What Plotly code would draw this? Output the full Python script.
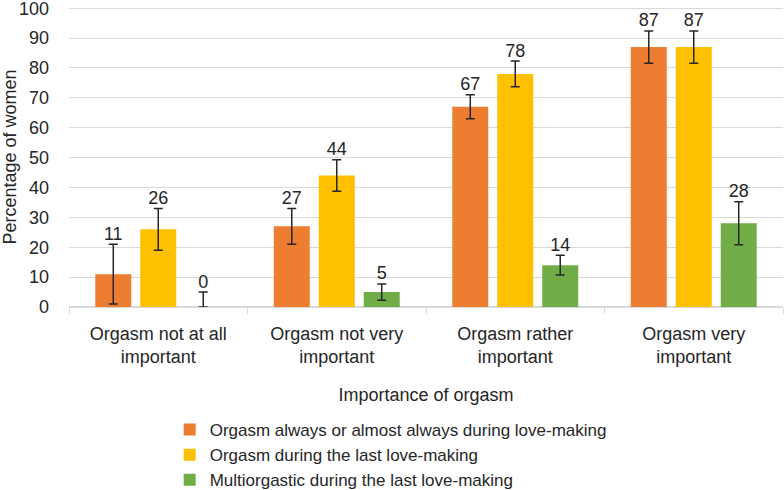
import plotly.graph_objects as go

categories = ["Orgasm not at all<br>important", "Orgasm not very<br>important",
              "Orgasm rather<br>important", "Orgasm very<br>important"]
series_names = ["Orgasm always or almost always during love-making",
                "Orgasm during the last love-making",
                "Multiorgastic during the last love-making"]
always_vals = [11, 27, 67, 87]
last_vals = [26, 44, 78, 87]
multi_vals = [0, 5, 14, 28]
always_err_up = [10, 6, 4, 5.4]
always_err_down = [10, 6, 4, 5.4]
last_err_up = [7, 5.3, 4.3, 5.4]
last_err_down = [7, 5.3, 4.3, 5.4]
multi_err_up = [5, 2.7, 3.3, 7.2]
multi_err_down = [0, 2.7, 3.3, 7.2]
y_ticks = list(range(0, 101, 10))
colors = ["#ED7D31", "#FFC000", "#70AD47"]

values = [always_vals, last_vals, multi_vals]
errs_up = [always_err_up, last_err_up, multi_err_up]
errs_down = [always_err_down, last_err_down, multi_err_down]

FONT = "Liberation Sans, Arial, sans-serif"
fig = go.Figure()
for i in range(3):
    fig.add_trace(go.Bar(
        x=categories, y=values[i], name=series_names[i],
        marker=dict(color=colors[i], line=dict(width=0)),
        offsetgroup=str(i),
        error_y=dict(type="data", symmetric=False, array=errs_up[i],
                     arrayminus=errs_down[i], color="#262626",
                     thickness=1.5, width=4.5),
    ))
for i in range(3):
    fig.add_trace(go.Scatter(
        x=categories, y=[v + e for v, e in zip(values[i], errs_up[i])],
        mode="text", text=[str(v) for v in values[i]],
        textposition="top center", offsetgroup=str(i),
        textfont=dict(size=18, color="#262626", family=FONT),
        showlegend=False, hoverinfo="skip", cliponaxis=False,
    ))

fig.update_layout(
    width=784, height=490,
    barmode="group", bargap=0.244, bargroupgap=0.2,
    scattermode="group", scattergap=0.244,
    plot_bgcolor="white", paper_bgcolor="white",
    margin=dict(l=69, r=1, t=7, b=183, autoexpand=False),
    font=dict(family=FONT, size=18, color="#262626"),
    legend=dict(orientation="v", x=0.141, xanchor="left", y=-0.35, yanchor="top",
                font=dict(size=17, color="#262626"), tracegroupgap=0,
                itemwidth=30, traceorder="normal"),
    xaxis=dict(
        type="category", tickson="boundaries", ticks="outside", ticklen=6,
        tickcolor="#d9d9d9", showline=True, linecolor="#d9d9d9", linewidth=1,
        showgrid=False, tickfont=dict(size=18), automargin=False,
        ticklabelstandoff=10,
        title=dict(text="Importance of orgasm", font=dict(size=18), standoff=22),
    ),
    yaxis=dict(
        range=[0, 100.4], tickvals=y_ticks,
        showgrid=True, gridcolor="#d9d9d9", gridwidth=1,
        zeroline=True, zerolinecolor="#d9d9d9", tickfont=dict(size=18),
        ticks="", showline=False, automargin=False, ticklabelstandoff=19,
        ticklabeloverflow="allow",
        title=dict(text="Percentage of women", font=dict(size=18), standoff=6),
    ),
)
fig.write_html("out.html", config={"displayModeBar": False},
               post_script="document.body.style.margin='0';")
